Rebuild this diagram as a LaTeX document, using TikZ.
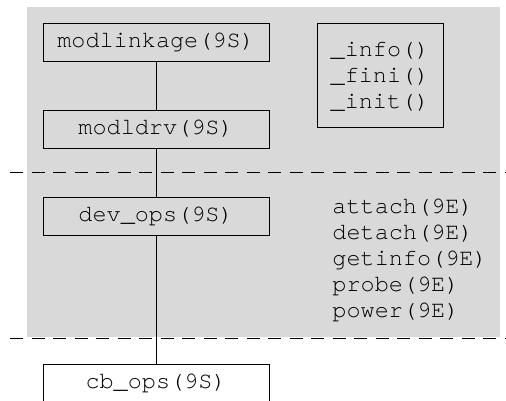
\documentclass[tikz,border=0pt]{standalone}
\usepackage{fontspec}
\setmonofont[Ligatures=NoCommon]{TeX Gyre Cursor}

\tikzset{
  modbox/.style={draw, minimum width=226pt, minimum height=38pt, inner sep=0pt},
  layer/.style={dash pattern=on 13pt off 8.5pt}
}

\begin{document}
\begin{tikzpicture}[x=1pt, y=-1pt, line width=0.9pt,
  every node/.style={font=\ttfamily\fontsize{23.5}{26}\selectfont}]

\clip (0,0) rectangle (506,400);
\fill[gray!30] (27,7) rectangle (500,337);

% layer boundaries
\foreach \y in {172,338}
   {
	\draw[layer] (10,\y) -- (506,\y);
   };

\node[modbox] (link) at (156,42) {modlinkage(9S)};
\node[modbox] (drv) at (156,129) {modldrv(9S)};
\node[modbox] (devops) at (156,216) {dev\_ops(9S)};
\node[modbox, fill=white] (cbops) at (156,383) {cb\_ops(9S)};

\draw (link) -- (drv) -- (devops) -- (cbops);

\node[draw, align=left, minimum width=126pt, minimum height=104pt, inner sep=0pt,
  text depth=0pt] (entries) at (380,75) {\_info()\\\_fini()\\\_init()};

\node[align=left, anchor=west, inner sep=0pt] (devfuncs) at (332,260)
  {attach(9E)\\detach(9E)\\getinfo(9E)\\probe(9E)\\power(9E)};
\end{tikzpicture}
\end{document}
